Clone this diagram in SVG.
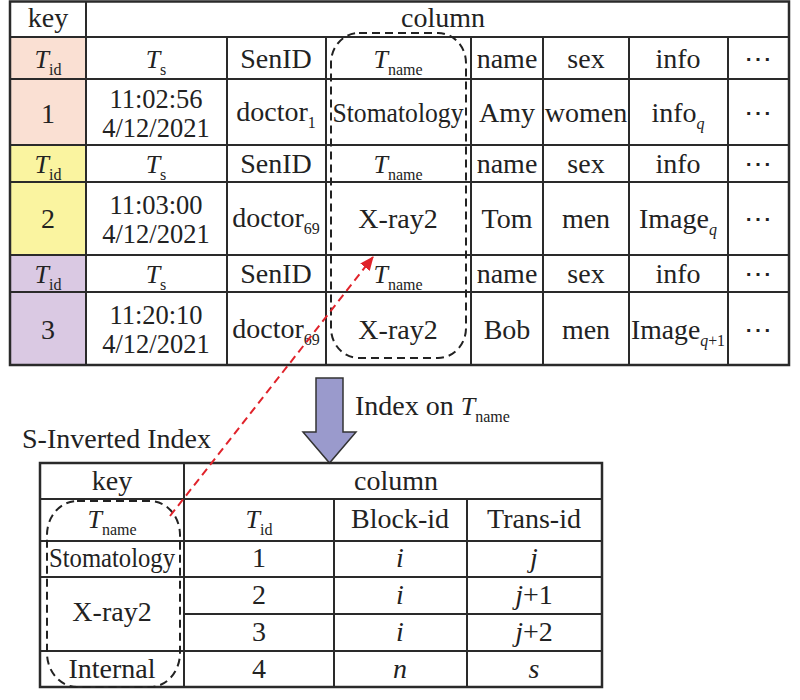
<svg xmlns="http://www.w3.org/2000/svg" width="800" height="700" viewBox="0 0 800 700" font-family="'Liberation Serif', 'DejaVu Serif', serif">
<style>
text{font-family:'Liberation Serif','DejaVu Serif',serif;font-size:28px;fill:#222;text-anchor:middle}
.it{font-style:italic}
.T{font-style:italic;font-size:26px}
.sub{font-size:16px}
.dt{font-size:26.5px}
.grid{stroke:#2a2a2a;stroke-width:2;fill:none}
.outer{stroke:#2a2a2a;stroke-width:2.5;fill:none}
.dash{stroke:#222;stroke-width:2;fill:none;stroke-dasharray:8 5}
.peach{fill:#fae0d3}
.yellow{fill:#faf4a0}
.purple{fill:#dac9e3}
</style>
<defs>
<marker id="redHead" markerUnits="userSpaceOnUse" markerWidth="14" markerHeight="12" refX="13" refY="6" orient="auto">
<path d="M0,0 L14,6 L0,12 z" fill="#e0232b"/>
</marker>
</defs>

<g id="top-table">
<rect class="peach" x="10" y="37" width="76" height="108"/>
<rect class="yellow" x="10" y="145" width="76" height="110"/>
<rect class="purple" x="10" y="255" width="76" height="110"/>
<rect class="outer" x="10" y="1.5" width="779" height="363.5"/>
<path class="grid" d="M10,37H789 M10,79H789 M10,145H789 M10,182H789 M10,255H789 M10,292H789 M86,1.5V365 M227,37V365 M326,37V365 M471,37V365 M543,37V365 M629,37V365 M728,37V365"/>
<text x="48" y="27">key</text>
<text x="443" y="27">column</text>
<!-- row 1 -->
<text x="48" y="68"><tspan class="T">T</tspan><tspan class="sub" dy="7">id</tspan></text>
<text x="156" y="68"><tspan class="T">T</tspan><tspan class="sub" dy="7">s</tspan></text>
<text x="276" y="68">SenID</text>
<text x="398" y="68"><tspan class="T">T</tspan><tspan class="sub" dy="7">name</tspan></text>
<text x="507" y="68">name</text>
<text x="586" y="68">sex</text>
<text x="678" y="68">info</text>
<text x="758" y="68">⋯</text>
<!-- row 2 -->
<text x="48" y="123">1</text>
<text class="dt" x="156" y="108">11:02:56</text>
<text class="dt" x="156" y="137">4/12/2021</text>
<text x="276" y="121">doctor<tspan class="sub" dy="7">1</tspan></text>
<text x="398" y="122" textLength="131" lengthAdjust="spacingAndGlyphs">Stomatology</text>
<text x="507" y="122">Amy</text>
<text x="586" y="122">women</text>
<text x="678" y="122">info<tspan class="sub it" dy="7">q</tspan></text>
<text x="758" y="122">⋯</text>
<!-- row 3 -->
<text x="48" y="173"><tspan class="T">T</tspan><tspan class="sub" dy="7">id</tspan></text>
<text x="156" y="173"><tspan class="T">T</tspan><tspan class="sub" dy="7">s</tspan></text>
<text x="276" y="173">SenID</text>
<text x="398" y="173"><tspan class="T">T</tspan><tspan class="sub" dy="7">name</tspan></text>
<text x="507" y="173">name</text>
<text x="586" y="173">sex</text>
<text x="678" y="173">info</text>
<text x="758" y="173">⋯</text>
<!-- row 4 -->
<text x="48" y="228">2</text>
<text class="dt" x="156" y="214">11:03:00</text>
<text class="dt" x="156" y="243">4/12/2021</text>
<text x="276" y="227">doctor<tspan class="sub" dy="7">69</tspan></text>
<text x="398" y="228">X-ray2</text>
<text x="507" y="228">Tom</text>
<text x="586" y="228">men</text>
<text x="678" y="228">Image<tspan class="sub it" dy="7">q</tspan></text>
<text x="758" y="228">⋯</text>
<!-- row 5 -->
<text x="48" y="283"><tspan class="T">T</tspan><tspan class="sub" dy="7">id</tspan></text>
<text x="156" y="283"><tspan class="T">T</tspan><tspan class="sub" dy="7">s</tspan></text>
<text x="276" y="283">SenID</text>
<text x="398" y="283"><tspan class="T">T</tspan><tspan class="sub" dy="7">name</tspan></text>
<text x="507" y="283">name</text>
<text x="586" y="283">sex</text>
<text x="678" y="283">info</text>
<text x="758" y="283">⋯</text>
<!-- row 6 -->
<text x="48" y="339">3</text>
<text class="dt" x="156" y="324">11:20:10</text>
<text class="dt" x="156" y="353">4/12/2021</text>
<text x="276" y="338">doctor<tspan class="sub" dy="7">69</tspan></text>
<text x="398" y="339">X-ray2</text>
<text x="507" y="339">Bob</text>
<text x="586" y="339">men</text>
<text x="678" y="339" textLength="94" lengthAdjust="spacingAndGlyphs">Image<tspan class="sub" dy="7"><tspan class="it">q</tspan>+1</tspan></text>
<text x="758" y="339">⋯</text>
<rect class="dash" x="331" y="33" width="135" height="325" rx="28" ry="30"/>
</g>

<g id="index-arrow">
<polygon points="316,378 343,378 343,432 356,432 329.5,463 303,432 316,432" fill="#9a9acc" stroke="#333" stroke-width="1.5" stroke-linejoin="miter"/>
<text x="355" y="415" style="text-anchor:start">Index on <tspan class="T">T</tspan><tspan class="sub" dy="7">name</tspan></text>
</g>

<g id="inverted-index">
<text x="22" y="448" style="text-anchor:start">S-Inverted Index</text>
<rect class="outer" x="40" y="463" width="562" height="224"/>
<path class="grid" d="M40,499H602 M40,541H602 M40,577H602 M184,614H602 M40,651H602 M184,463V687 M334,499V687 M467,499V687"/>
<text x="112" y="490">key</text>
<text x="396" y="490">column</text>
<text x="112" y="528"><tspan class="T">T</tspan><tspan class="sub" dy="7">name</tspan></text>
<text x="259" y="528"><tspan class="T">T</tspan><tspan class="sub" dy="7">id</tspan></text>
<text x="400" y="528">Block-id</text>
<text x="534" y="528">Trans-id</text>
<text x="112" y="567" textLength="126" lengthAdjust="spacingAndGlyphs">Stomatology</text>
<text x="259" y="567">1</text>
<text x="400" y="567" class="it">i</text>
<text x="534" y="567" class="it">j</text>
<text x="112" y="621">X-ray2</text>
<text x="259" y="604">2</text>
<text x="400" y="604" class="it">i</text>
<text x="534" y="604"><tspan class="it">j</tspan>+1</text>
<text x="259" y="641">3</text>
<text x="400" y="641" class="it">i</text>
<text x="534" y="641"><tspan class="it">j</tspan>+2</text>
<text x="112" y="678">Internal</text>
<text x="259" y="678">4</text>
<text x="400" y="678" class="it">n</text>
<text x="534" y="678" class="it">s</text>
<rect class="dash" x="47" y="501" width="133" height="186" rx="30" ry="34"/>
</g>

<g id="connectors">
<line x1="170" y1="516" x2="373" y2="257" stroke="#e0232b" stroke-width="2" stroke-dasharray="8 5" marker-end="url(#redHead)"/>
</g>
</svg>
